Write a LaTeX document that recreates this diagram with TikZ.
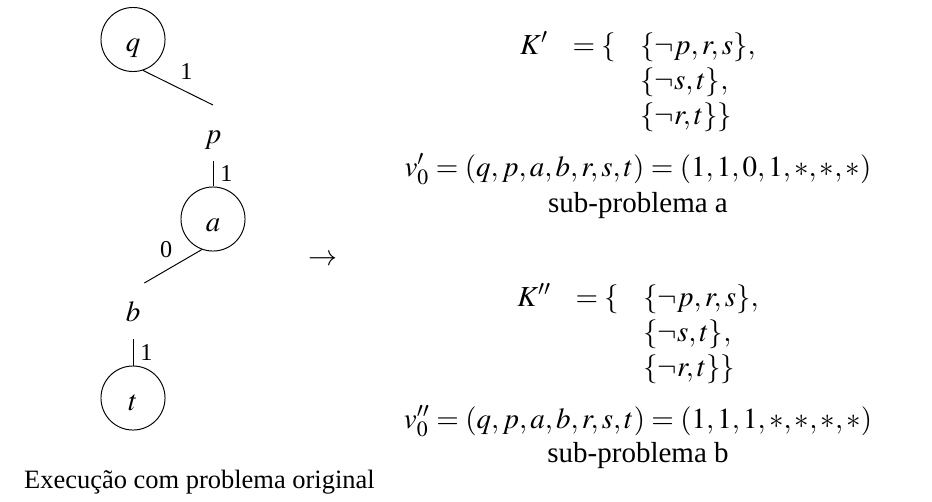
\documentclass[tikz,border=0pt,12pt]{standalone}
\usepackage{mathptmx}
\usepackage[no-math]{fontspec}
\setmainfont{Liberation Serif}
\usetikzlibrary{positioning}

\begin{document}
\begin{tikzpicture}[x=0.4137pt, y=-0.4137pt,
    state/.style={circle, draw, thin, minimum size=26.5pt, inner sep=0pt,
                  text height=10.3pt, text depth=0pt},
    lit/.style={minimum width=10.3pt, minimum height=22.75pt, inner sep=0pt,
                text height=8.3pt, text depth=0pt},
    edge/.style={thin},
    lbl/.style={font=\footnotesize, inner sep=0pt},
  ]
  \useasboundingbox (0,0) rectangle (932,501);

  % Column x-centres and row baselines (absolute positioning, pixel units)
  \def\xL{133}   % left branch of the tree
  \def\xM{213}   % right branch of the tree
  \def\xR{638}   % sub-problem column

  % ── Execution tree ──────────────────────────────────────────────
  \node[state] (nq) at (\xL, 39.5) {$q$};
  \node[lit]   (np) at (\xM, 133)  {$p$};
  \node[state] (na) at (\xM, 219)  {$a$};
  \node[lit]   (nb) at (\xL, 311)  {$b$};
  \node[state] (nt) at (\xL, 398)  {$t$};

  \draw[edge] (nq.288) -- (np.north)
    node[pos=0.62, above=4.75pt, lbl] {1};
  \draw[edge] (np.south) -- (na.north)
    node[midway, right=2.9pt, lbl] {1};
  \draw[edge] (na.250) -- (nb.68)
    node[pos=0.62, above=5.2pt, lbl] {0};
  \draw[edge] (nb.south) -- (nt.north)
    node[midway, right=2.9pt, lbl] {1};

  \node[anchor=base west, font=\small] (cap) at (14, 488)
    {Execução com problema original};

  \node (to) at (323, 260) {$\rightarrow$};

  % ── Sub-problem a ───────────────────────────────────────────────
  \node[anchor=base] (Ka) at (\xR, 54)
    {$\begin{array}[t]{@{}lll@{}}
       K' & = \{ & \{\neg p,r,s\},\\
          &      & \{\neg s,t\},\\
          &      & \{\neg r,t\}\}
     \end{array}$};
  \node[anchor=base] (va) at (\xR, 176)
    {$v'_0 = (q,p,a,b,r,s,t) = (1,1,0,1,*,*,*)$};
  \node[anchor=base] (sa) at (\xR, 212) {sub-problema a};

  % ── Sub-problem b ───────────────────────────────────────────────
  \node[anchor=base] (Kb) at (\xR, 306)
    {$\begin{array}[t]{@{}lll@{}}
       K'' & = \{ & \{\neg p,r,s\},\\
           &      & \{\neg s,t\},\\
           &      & \{\neg r,t\}\}
     \end{array}$};
  \node[anchor=base] (vb) at (\xR, 428)
    {$v''_0 = (q,p,a,b,r,s,t) = (1,1,1,*,*,*,*)$};
  \node[anchor=base] (sb) at (\xR, 462) {sub-problema b};

\end{tikzpicture}
\end{document}
